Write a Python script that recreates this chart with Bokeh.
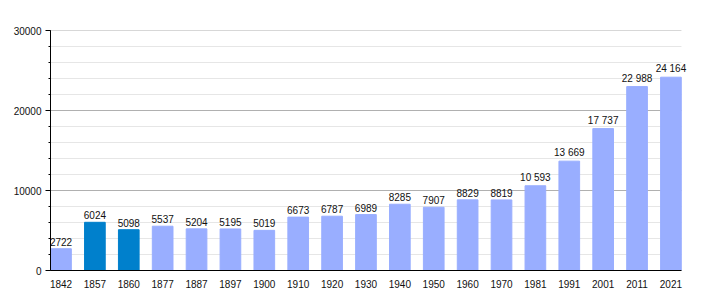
from bokeh.plotting import figure
from bokeh.models import Range1d, FixedTicker, ColumnDataSource, LabelSet
from bokeh.core.properties import value
from bokeh.embed import file_html
from bokeh.resources import INLINE

years = ["1842", "1857", "1860", "1877", "1887", "1897", "1900", "1910", "1920", "1930",
         "1940", "1950", "1960", "1970", "1981", "1991", "2001", "2011", "2021"]
population = [2722, 6024, 5098, 5537, 5204, 5195, 5019, 6673, 6787, 6989,
              8285, 7907, 8829, 8819, 10593, 13669, 17737, 22988, 24164]
pop_labels = ["2722", "6024", "5098", "5537", "5204", "5195", "5019", "6673", "6787", "6989",
              "8285", "7907", "8829", "8819", "10 593", "13 669", "17 737", "22 988", "24 164"]
highlight = ["1857", "1860"]
major_ticks = [0, 10000, 20000, 30000]
minor_ticks = list(range(0, 30001, 2000))

LIGHT = "#99aeff"
DARK = "#0080cc"
FONT = "Liberation Sans"
FSIZE = "10px"

xs = list(range(len(years)))
colors = [DARK if y in highlight else LIGHT for y in years]
src = ColumnDataSource(dict(x=xs, top=population, lab=pop_labels, color=colors))

x0, x1 = -0.31, len(years) - 1 + 0.31
p = figure(width=710, height=300, output_backend="svg", toolbar_location=None,
           x_range=Range1d(x0, 19.02), y_range=Range1d(0, 30000),
           min_border_left=50, min_border_right=5, min_border_top=30, min_border_bottom=30)
p.outline_line_color = None
p.background_fill_color = "white"

# grid lines drawn over the bar span only
minor_only = [t for t in minor_ticks if t not in major_ticks]
p.segment(x0=[x0] * len(minor_only), x1=[x1] * len(minor_only), y0=minor_only, y1=minor_only,
          line_color="#e6e6e6", line_width=1)
p.segment(x0=[x0] * len(major_ticks), x1=[x1] * len(major_ticks), y0=major_ticks, y1=major_ticks,
          line_color="#b0b0b0", line_width=1)

p.vbar(x="x", top="top", width=0.61, bottom=0, color="color", source=src)

labels = LabelSet(x="x", y="top", text="lab", source=src, text_align="center",
                  text_baseline="bottom", y_offset=3, text_font=value(FONT),
                  text_font_size=FSIZE, text_color="#111111")
p.add_layout(labels)

# y axis
p.yaxis.ticker = FixedTicker(ticks=major_ticks, minor_ticks=minor_ticks)
p.yaxis.major_label_text_font = FONT
p.yaxis.major_label_text_font_size = FSIZE
p.yaxis.major_label_text_color = "#111111"
p.yaxis.axis_line_color = "black"
p.yaxis.major_tick_line_color = "black"
p.yaxis.minor_tick_line_color = "black"
p.yaxis.major_tick_in = 0
p.yaxis.major_tick_out = 5
p.yaxis.minor_tick_in = 0
p.yaxis.minor_tick_out = 2
p.yaxis.major_label_standoff = 4

# x axis
p.xaxis.ticker = FixedTicker(ticks=xs)
p.xaxis.bounds = (x0, x1)
p.xaxis.major_label_overrides = {i: y for i, y in enumerate(years)}
p.xaxis.major_label_text_font = FONT
p.xaxis.major_label_text_font_size = FSIZE
p.xaxis.major_label_text_color = "#111111"
p.xaxis.axis_line_color = "black"
p.xaxis.major_tick_line_color = None
p.xaxis.minor_tick_line_color = None
p.xaxis.major_label_standoff = 3

p.xgrid.grid_line_color = None
p.ygrid.grid_line_color = None

open("out.html", "w").write(file_html(p, INLINE))
